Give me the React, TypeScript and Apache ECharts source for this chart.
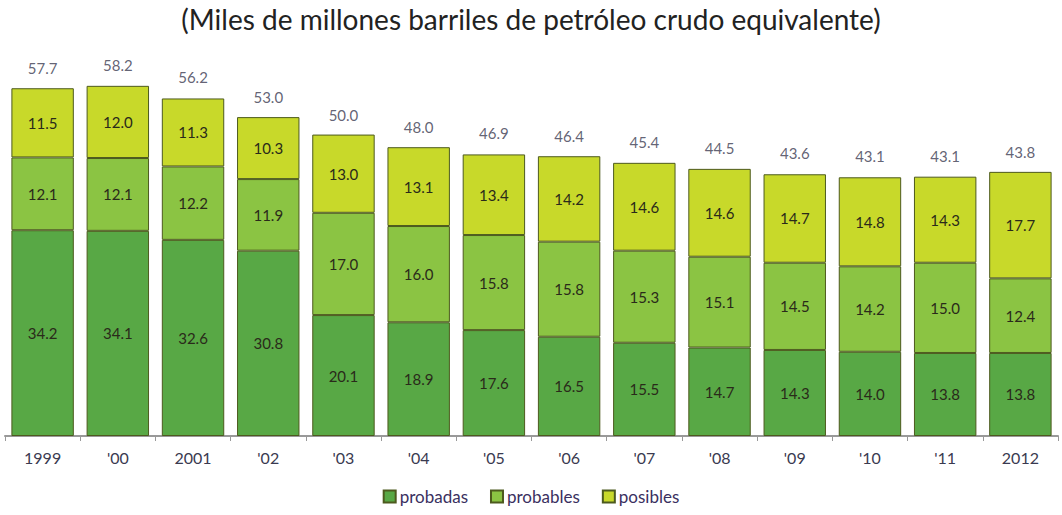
import React, { useEffect, useRef } from "react";
import * as echarts from "echarts";

const categories = ["1999", "'00", "2001", "'02", "'03", "'04", "'05", "'06", "'07", "'08", "'09", "'10", "'11", "2012"];
const probadas = [34.2, 34.1, 32.6, 30.8, 20.1, 18.9, 17.6, 16.5, 15.5, 14.7, 14.3, 14.0, 13.8, 13.8];
const probables = [12.1, 12.1, 12.2, 11.9, 17.0, 16.0, 15.8, 15.8, 15.3, 15.1, 14.5, 14.2, 15.0, 12.4];
const posibles = [11.5, 12.0, 11.3, 10.3, 13.0, 13.1, 13.4, 14.2, 14.6, 14.6, 14.7, 14.8, 14.3, 17.7];
const totals = [57.7, 58.2, 56.2, 53.0, 50.0, 48.0, 46.9, 46.4, 45.4, 44.5, 43.6, 43.1, 43.1, 43.8];

const FONT = "Lato, 'Open Sans', sans-serif";

export default function App() {
  const ref = useRef<HTMLDivElement>(null);
  useEffect(() => {
    const chart = echarts.init(ref.current!, null, { renderer: "svg" });
    const innerLabel = {
      show: true,
      position: "inside" as const,
      color: "#2a2a1a",
      fontSize: 15,
      fontFamily: FONT,
      formatter: (p: any) => p.value.toFixed(1),
    };
    const mkBar = (name: string, data: number[], color: string) => ({
      name,
      type: "bar" as const,
      stack: "total",
      data,
      barWidth: "83%",
      itemStyle: { color, borderColor: "#4d5a1e", borderWidth: 1 },
      label: innerLabel,
    });
    chart.setOption({
      animation: false,
      title: {
        text: "(Miles de millones barriles de petróleo crudo equivalente)",
        left: "center",
        top: 0,
        textStyle: { fontSize: 28, fontWeight: "normal", color: "#222", fontFamily: FONT },
      },
      legend: {
        bottom: 5,
        left: "center",
        itemWidth: 12,
        itemHeight: 12,
        itemGap: 22,
        icon: "rect",
        data: ["probadas", "probables", "posibles"],
        textStyle: { fontSize: 17, color: "#3a3060", fontFamily: FONT, padding: [0, 0, 0, -1] },
      },
      grid: { left: 5, right: 4, top: 75, bottom: 79, containLabel: false },
      xAxis: {
        type: "category",
        data: categories,
        axisLine: { lineStyle: { color: "#999", width: 2 } },
        axisTick: { show: true, length: 5, lineStyle: { color: "#999" } },
        axisLabel: { color: "#3a3a50", fontSize: 16, fontFamily: FONT, margin: 13 },
      },
      yAxis: {
        type: "value",
        min: 0,
        max: 60,
        show: false,
        splitLine: { show: false },
      },
      series: [
        mkBar("probadas", probadas, "#58a845"),
        mkBar("probables", probables, "#8bc443"),
        mkBar("posibles", posibles, "#c8d92a"),
        {
          name: "total",
          type: "scatter",
          data: totals,
          symbolSize: 0,
          silent: true,
          label: {
            show: true,
            position: "top",
            distance: 13,
            color: "#3a3a50",
            fontSize: 15,
            fontFamily: FONT,
            formatter: (p: any) => p.value.toFixed(1),
          },
        },
      ],
    });
    return () => chart.dispose();
  }, []);
  return (
    <div
      ref={ref}
      style={{ position: "absolute", left: 0, top: 0, width: 1062, height: 515, background: "#fff" }}
    />
  );
}
